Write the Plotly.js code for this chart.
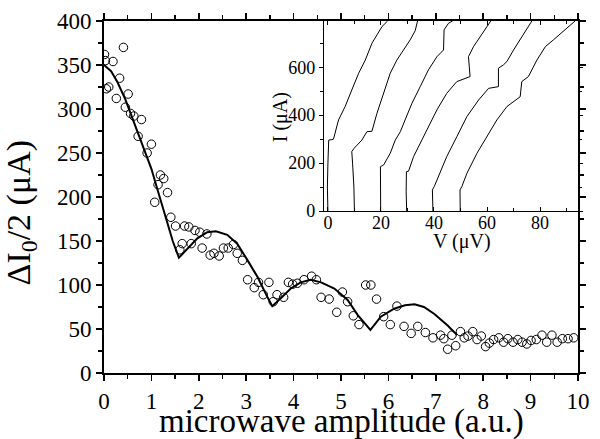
<!DOCTYPE html>
<html>
<head>
<meta charset="utf-8">
<script src="https://cdn.plot.ly/plotly-3.0.1.min.js"></script>
<style>html,body{margin:0;padding:0;background:#fff;}#chart{width:600px;height:439px;}</style>
</head>
<body>
<div id="chart"></div>
<script>
// Main panel: measured points (open circles)
const ampX = [0.01,0.03,0.05,0.10,0.19,0.26,0.33,0.41,0.45,0.51,0.56,0.63,0.72,0.79,0.91,1.00,1.07,1.14,1.19,1.26,1.34,1.41,1.51,1.60,1.65,1.70,1.79,1.84,1.92,2.02,2.07,2.17,2.24,2.32,2.43,2.52,2.62,2.73,2.81,2.92,3.03,3.17,3.26,3.36,3.48,3.57,3.65,3.79,3.89,3.98,4.08,4.22,4.38,4.48,4.58,4.75,4.91,5.03,5.14,5.26,5.38,5.52,5.63,5.75,5.90,6.04,6.18,6.33,6.48,6.62,6.78,6.94,7.10,7.17,7.25,7.34,7.42,7.52,7.60,7.68,7.78,7.87,7.96,8.05,8.13,8.22,8.33,8.43,8.52,8.63,8.73,8.82,8.92,9.01,9.12,9.24,9.34,9.45,9.56,9.67,9.79,9.91];
const dI = [362,355,323,325,354,312,335,370,302,317,295,292,269,288,250,260,194,214,225,221,205,177,167,140,147,167,166,147,162,160,142,158,134,136,133,142,142,146,136,128,106,97,103,89,103,81,89,86,103,101,102,106,110,106,86,84,69,92,81,65,55,100,100,84,64,55,76,53,45,53,46,40,43,39,27,43,31,47,40,42,47,38,42,30,34,38,40,35,39,35,38,35,33,37,38,43,35,43,35,39,39,40];
// Main panel: theory curve (solid line)
const fitX = [0,0.15,0.28,0.45,0.63,0.84,1.0,1.12,1.34,1.45,1.58,1.76,1.97,2.18,2.36,2.6,2.81,3.03,3.24,3.45,3.55,3.73,3.94,4.15,4.36,4.58,4.86,5.14,5.35,5.62,5.84,6.12,6.35,6.55,6.75,6.97,7.25,7.45];
const fitY = [350,343,331,311,285,255,232,210,168,150,131,141,153,160,161,157,147,128,109,86,76,85,96,103,106,103,96,83,66,49,64,73,77,78,75,67,54,43];
// Inset: I-V curves
const c1V = [0.0,-0.2,0.0,0.3,1.5,2.1,4.0,6.5,9.0,11.6,14.1,16.6,18.5,20.4,22.5];
const c1I = [0,100,200,296,298,300,380,436,505,575,630,700,735,770,793];
const c2V = [10.0,9.8,9.3,9.0,9.9,12.8,14.7,16.6,18.5,21.0,23.5,26.0,28.5,31.0,32.9,33.8];
const c2I = [0,100,200,248,262,296,331,333,408,491,575,630,672,714,752,793];
const c3V = [19.9,19.7,19.8,21.0,23.5,25.4,27.3,29.1,31.7,34.8,37.9,41.1,43.6,43.8,45.5,47.0];
const c3I = [0,100,185,192,241,296,331,380,450,519,589,644,672,756,784,793];
const c4V = [29.7,29.5,29.6,30.4,32.3,35.4,37.9,41.1,44.8,48.6,53.6,53.0,54.9,57.4,59.9,61.4];
const c4I = [0,80,164,166,227,296,352,422,491,540,561,644,686,728,770,793];
const c5V = [39.6,39.4,40.1,41.7,44.8,48.6,52.4,56.8,60.6,64.3,64.3,66.2,67.5,70.0,72.5,75.0,76.9];
const c5I = [0,88,102,143,227,310,394,463,512,519,596,610,624,672,714,756,793];
const c6V = [49.9,49.8,50.5,52.4,56.2,59.9,63.7,67.5,72.5,73.1,75.6,78.8,82.0,85.0,88.8,93.2];
const c6I = [0,88,102,157,241,310,380,436,477,540,561,630,686,714,749,793];

const serif = 'Liberation Serif, Times New Roman, serif';
const traces = [
  {x: fitX, y: fitY, mode: 'lines', line: {color: '#000', width: 2}, xaxis: 'x', yaxis: 'y', hoverinfo: 'skip'},
  {x: ampX, y: dI, mode: 'markers', marker: {symbol: 'circle-open', size: 8.5, color: '#000', line: {width: 1, color: '#000'}}, xaxis: 'x', yaxis: 'y'}
];
[[c1V,c1I],[c2V,c2I],[c3V,c3I],[c4V,c4I],[c5V,c5I],[c6V,c6I]].forEach(function(c){
  traces.push({x: c[0], y: c[1], mode: 'lines', line: {color: '#000', width: 1}, xaxis: 'x2', yaxis: 'y2'});
});

const layout = {
  width: 600, height: 439,
  margin: {l: 104, r: 22, t: 21, b: 66},
  paper_bgcolor: '#fff', plot_bgcolor: '#fff',
  showlegend: false,
  font: {family: serif, color: '#000'},
  xaxis: {
    domain: [0, 1], anchor: 'y', range: [0, 10], tick0: 0, dtick: 1,
    ticks: 'outside', ticklen: 6, tickwidth: 1.5, tickcolor: '#000',
    minor: {dtick: 0.5, ticks: 'outside', ticklen: 4, tickwidth: 1.5, tickcolor: '#000'},
    showline: true, linewidth: 2, linecolor: '#000', mirror: 'ticks',
    showgrid: false, zeroline: false,
    tickfont: {family: serif, size: 23, color: '#000'}
  },
  yaxis: {
    domain: [0, 1], anchor: 'x', range: [0, 400], tick0: 0, dtick: 50,
    ticks: 'outside', ticklen: 6, tickwidth: 1.5, tickcolor: '#000',
    minor: {dtick: 25, ticks: 'outside', ticklen: 4, tickwidth: 1.5, tickcolor: '#000'},
    showline: true, linewidth: 2, linecolor: '#000', mirror: 'ticks',
    showgrid: false, zeroline: false,
    tickfont: {family: serif, size: 23, color: '#000'}
  },
  xaxis2: {
    domain: [0.464, 1], anchor: 'y2', range: [-1.5, 94.3], tick0: 0, dtick: 20,
    ticks: 'inside', ticklen: 4, tickwidth: 1, tickcolor: '#000',
    minor: {dtick: 10, ticks: 'inside', ticklen: 3, tickwidth: 1, tickcolor: '#000'},
    showline: true, linewidth: 1, linecolor: '#000', mirror: 'ticks',
    showgrid: false, zeroline: false, ticklabelstandoff: -5,
    tickfont: {family: serif, size: 18, color: '#000'}
  },
  yaxis2: {
    domain: [0.4602, 1], anchor: 'x2', range: [0, 793], tick0: 0, dtick: 200,
    ticks: 'outside', ticklen: 4, tickwidth: 1, tickcolor: '#000',
    minor: {dtick: 100, ticks: 'outside', ticklen: 3, tickwidth: 1, tickcolor: '#000'},
    showline: true, linewidth: 1, linecolor: '#000', mirror: 'ticks',
    showgrid: false, zeroline: false,
    tickfont: {family: serif, size: 18, color: '#000'}
  },
  annotations: [
    {text: 'microwave amplitude (a.u.)', xref: 'paper', yref: 'paper', x: 0.5, y: -0.137, xanchor: 'center', yanchor: 'middle', showarrow: false, font: {family: serif, size: 33, color: '#000'}},
    {text: 'ΔI<sub>0</sub>/2 (μA)', xref: 'paper', yref: 'paper', x: -0.176, y: 0.455, xanchor: 'center', yanchor: 'middle', textangle: -90, showarrow: false, font: {family: serif, size: 34, color: '#000'}},
    {text: 'V (μV)', xref: 'paper', yref: 'paper', x: 0.755, y: 0.375, xanchor: 'center', yanchor: 'middle', showarrow: false, font: {family: serif, size: 20, color: '#000'}},
    {text: 'I (μA)', xref: 'paper', yref: 'paper', x: 0.373, y: 0.726, xanchor: 'center', yanchor: 'middle', textangle: -90, showarrow: false, font: {family: serif, size: 20, color: '#000'}}
  ]
};

Plotly.newPlot('chart', traces, layout, {staticPlot: true, displayModeBar: false});
</script>
</body>
</html>
